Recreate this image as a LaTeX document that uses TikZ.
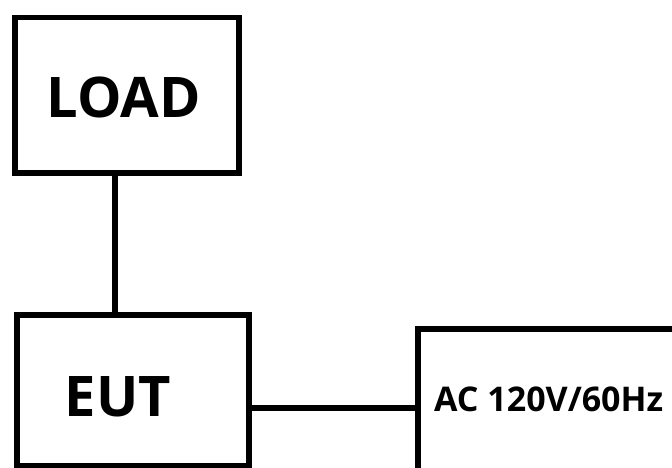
\documentclass[tikz,border=0pt]{standalone}
\usepackage{fontspec}
\setmainfont{Open Sans}
\begin{document}
\begin{tikzpicture}[x=1pt,y=-1pt,
  box/.style={draw=black,line width=5.5pt,fill=white},
  wire/.style={draw=black,line width=5.5pt},
  big/.style={font=\bfseries\fontsize{56}{60}\selectfont},
  small/.style={font=\bfseries\fontsize{34}{38}\selectfont}]
\useasboundingbox (0,0) rectangle (672,468);
\clip (0,0) rectangle (672,468);
\coordinate (lt) at (115,173);
\coordinate (eb) at (115,315);
\draw[wire] (lt) -- (eb);
\coordinate (er) at (249,408);
\coordinate (al) at (418,408);
\draw[wire] (er) -- (al);
\draw[box] (15,17.5) rectangle (239,173);
\draw[box] (17,315) rectangle (249,466);
\draw[box] (418,329) rectangle (700,500);
\node[big,inner sep=0pt] (load) at (124,97) {LOAD};
\node[big,inner sep=0pt] (eut) at (118,397) {EUT};
\node[small,inner sep=0pt,anchor=west] (ac) at (434,399) {AC 120V/60Hz};
\end{tikzpicture}
\end{document}
